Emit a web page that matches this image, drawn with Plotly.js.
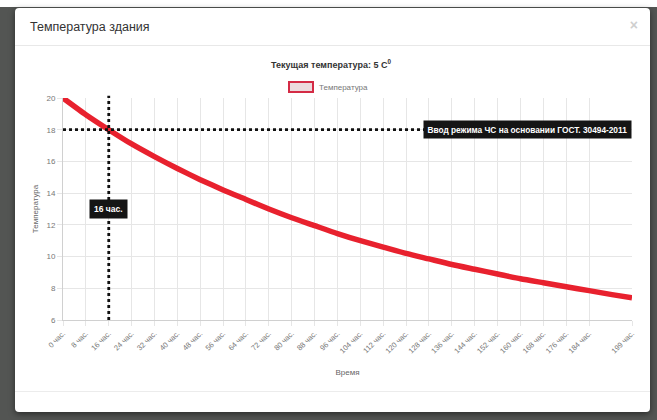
<!DOCTYPE html>
<html>
<head>
<meta charset="utf-8">
<script src="https://cdn.plot.ly/plotly-3.0.1.min.js"></script>
<style>
  html, body { margin:0; padding:0; width:657px; height:420px; overflow:hidden; background:#535553; font-family:"Liberation Sans", Arial, sans-serif; }
  #topstrip { position:absolute; left:0; top:0; width:657px; height:7px; background:#fff; }
  #modal { position:absolute; left:15px; top:8px; width:635px; height:404px; background:#fff; border-radius:4px; box-shadow:0 2px 6px rgba(0,0,0,0.5); }
  #hdr { position:absolute; left:15px; top:12px; font-size:12.5px; color:#333; }
  #close { position:absolute; right:12px; top:9px; font-size:14px; color:#cfcfcf; font-weight:bold; }
  #sep1 { position:absolute; left:0; top:37px; width:635px; height:1px; background:#e8e8e8; }
  #sep2 { position:absolute; left:0; top:383px; width:635px; height:1px; background:#ececec; }
  #chart { position:absolute; left:0; top:0; width:657px; height:420px; }
</style>
</head>
<body>
<div id="topstrip"></div>
<div id="modal">
  <div id="hdr">Температура здания</div>
  <div id="close">×</div>
  <div id="sep1"></div>
  <div id="sep2"></div>
</div>
<div id="chart"></div>
<script>
// Data
var hours = [0, 8, 16, 24, 32, 40, 48, 56, 64, 72, 80, 88, 96, 104, 112, 120, 128, 136, 144, 152, 160, 168, 176, 184, 192, 199];
var temperature = [20, 18.95, 18.0, 17.1, 16.3, 15.55, 14.85, 14.2, 13.6, 13.0, 12.45, 11.95, 11.45, 11.0, 10.6, 10.2, 9.85, 9.5, 9.2, 8.9, 8.6, 8.35, 8.1, 7.85, 7.6, 7.4];
var tickHours = [0, 8, 16, 24, 32, 40, 48, 56, 64, 72, 80, 88, 96, 104, 112, 120, 128, 136, 144, 152, 160, 168, 176, 184, 199];
var tickLabels = ["0 час.", "8 час.", "16 час.", "24 час.", "32 час.", "40 час.", "48 час.", "56 час.", "64 час.", "72 час.", "80 час.", "88 час.", "96 час.", "104 час.", "112 час.", "120 час.", "128 час.", "136 час.", "144 час.", "152 час.", "160 час.", "168 час.", "176 час.", "184 час.", "199 час."];
var thresholdTemp = 18;
var thresholdHour = 16;
var thresholdHourLabel = "16 час.";
var thresholdTempLabel = "Ввод режима ЧС на основании ГОСТ. 30494-2011";
var seriesName = "Температура";
var chartTitle = "Текущая температура: 5 C<sup>0</sup>";

var font = "Liberation Sans, Arial, sans-serif";
var W = 657, H = 420;
var L = 63, R = 632, T = 98, B = 320;
function px(xp) { return (xp - L) / (R - L); }
function py(yp) { return (B - yp) / (B - T); }

var trace = {
  x: hours, y: temperature, type: 'scatter', mode: 'lines',
  line: { color: '#e8212e', width: 5.5, shape: 'spline', smoothing: 0.6 },
  name: seriesName, showlegend: false, hoverinfo: 'x+y'
};

var layout = {
  width: W, height: H,
  paper_bgcolor: 'rgba(0,0,0,0)', plot_bgcolor: '#ffffff',
  margin: { l: L, r: W - R, t: T, b: H - B, pad: 0 },
  showlegend: false,
  title: { text: chartTitle, font: { family: font, size: 9, color: '#333', weight: 'bold' },
           x: 331 / W, xanchor: 'center', y: 1 - 65 / H, yanchor: 'middle', xref: 'container', yref: 'container' },
  xaxis: {
    range: [hours[0], hours[hours.length - 1]], tickmode: 'array', tickvals: tickHours, ticktext: tickLabels,
    tickangle: -45, tickfont: { family: font, size: 7.5, color: '#777' },
    showgrid: true, gridcolor: '#e6e6e6', gridwidth: 1, zeroline: false,
    ticks: 'outside', ticklen: 5, tickcolor: '#e6e6e6',
    showline: true, linecolor: '#d0d0d0', linewidth: 1,
    title: { text: 'Время', font: { family: font, size: 8, color: '#666' }, standoff: 14 },
    automargin: false, fixedrange: true
  },
  yaxis: {
    range: [6, 20], dtick: 2, tick0: 6,
    tickfont: { family: font, size: 8, color: '#777' },
    showgrid: true, gridcolor: '#e6e6e6', gridwidth: 1, zeroline: false,
    ticks: 'outside', ticklen: 5, tickcolor: '#e6e6e6',
    showline: true, linecolor: '#d0d0d0', linewidth: 1,
    title: { text: seriesName, font: { family: font, size: 8, color: '#666' }, standoff: 6 },
    automargin: false, fixedrange: true
  },
  shapes: [
    { type: 'line', xref: 'x', yref: 'paper', x0: thresholdHour, x1: thresholdHour, y0: 0, y1: 1.01,
      line: { color: '#111', width: 2.8, dash: 'dot' } },
    { type: 'line', xref: 'x', yref: 'y', x0: hours[0], x1: hours[hours.length - 1], y0: thresholdTemp, y1: thresholdTemp,
      line: { color: '#111', width: 2.8, dash: 'dot' } },
    // legend swatch
    { type: 'rect', xref: 'paper', yref: 'paper', x0: px(289), x1: px(313), y0: py(92), y1: py(82),
      fillcolor: '#ecdadd', line: { color: '#d42b45', width: 2 } }
  ],
  annotations: [
    { x: hours[hours.length - 1], y: thresholdTemp, xref: 'x', yref: 'y', text: thresholdTempLabel,
      showarrow: false, xanchor: 'right', yanchor: 'middle',
      bgcolor: '#151515', borderpad: 3.5, font: { family: font, size: 8.3, color: '#fff', weight: 'bold' } },
    { x: thresholdHour, y: 13, xref: 'x', yref: 'y', text: thresholdHourLabel,
      showarrow: false, xanchor: 'center', yanchor: 'middle',
      bgcolor: '#151515', borderpad: 4, font: { family: font, size: 8.5, color: '#fff', weight: 'bold' } },
    { x: px(317), y: py(87), xref: 'paper', yref: 'paper', text: seriesName,
      showarrow: false, xanchor: 'left', yanchor: 'middle',
      font: { family: font, size: 8, color: '#777' } }
  ]
};

Plotly.newPlot('chart', [trace], layout, { displayModeBar: false, staticPlot: true });
</script>
</body>
</html>
